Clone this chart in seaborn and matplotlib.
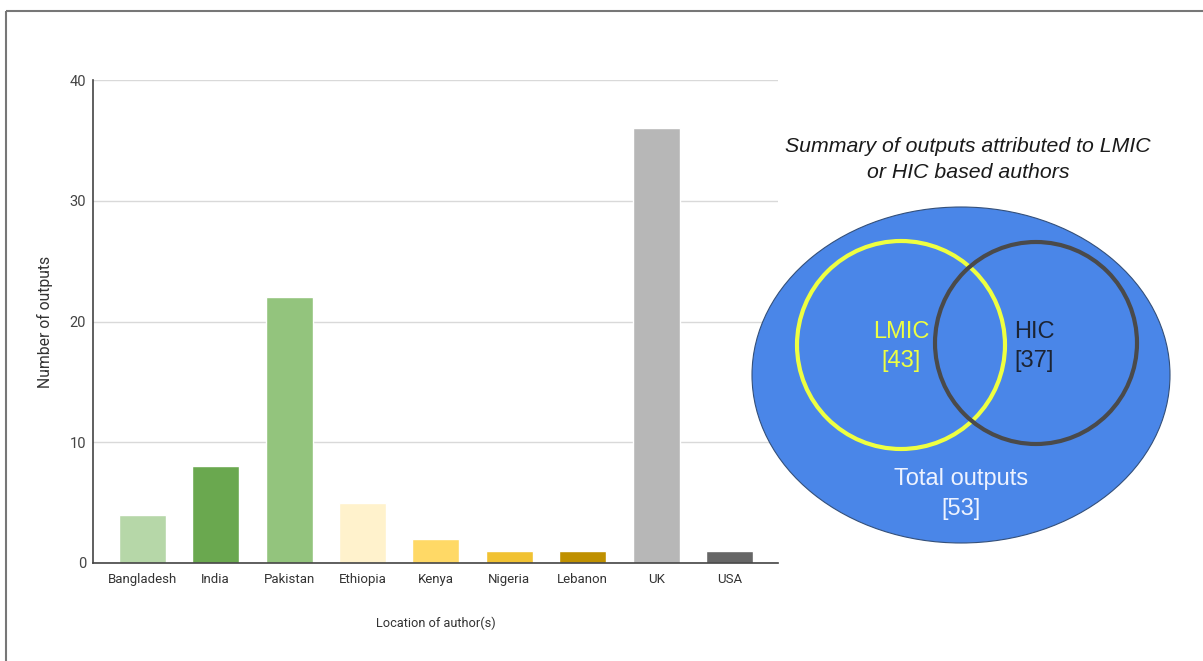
import matplotlib
matplotlib.use("Agg")
import matplotlib.pyplot as plt
from matplotlib.patches import Ellipse, Circle, Rectangle
import seaborn as sns
import pandas as pd

# ---- data ----
countries = ["Bangladesh", "India", "Pakistan", "Ethiopia", "Kenya", "Nigeria", "Lebanon", "UK", "USA"]
outputs = [4, 8, 22, 5, 2, 1, 1, 36, 1]
bar_colors = ["#b6d7a8", "#6aa84f", "#93c47d", "#fff2cc", "#ffd966", "#f1c232", "#bf9000", "#b7b7b7", "#666666"]
y_ticks = [0, 10, 20, 30, 40]
venn_labels = ["LMIC", "HIC", "Total outputs"]
venn_counts = [43, 37, 53]

sns.set_style("white")
plt.rcParams["font.family"] = ["Roboto", "DejaVu Sans"]

W, H = 1203, 661
fig = plt.figure(figsize=(W / 100, H / 100), dpi=100)

# background axes in pixel coordinates (border)
bg = fig.add_axes([0, 0, 1, 1])
bg.set_xlim(0, W)
bg.set_ylim(H, 0)
bg.axis("off")
bg.add_patch(Rectangle((6, 10.5), W + 20, H + 20, fill=False, edgecolor="#777777", lw=1.5))

# ---- bar chart ----
ax_l, ax_r, ax_t, ax_b = 93, 778, 80, 563
ax = fig.add_axes([ax_l / W, 1 - ax_b / H, (ax_r - ax_l) / W, (ax_b - ax_t) / H])
ax.set_facecolor("none")
df = pd.DataFrame({"country": countries, "outputs": outputs})
sns.barplot(data=df, x="country", y="outputs", hue="country", palette=bar_colors,
            legend=False, width=0.64, ax=ax, saturation=1)
ax.set_xlim(-0.67, 8.66)
ax.set_ylim(0, 40)
ax.set_yticks(y_ticks)
ax.set_yticklabels([str(t) for t in y_ticks], fontsize=10.5, color="#444444")
ax.tick_params(axis="x", labelsize=9.5, colors="#444444", length=0, pad=7)
ax.tick_params(axis="y", length=0, pad=5)
for lbl in ax.get_xticklabels():
    lbl.set_color("#333333")
ax.yaxis.grid(True, color="#d9d9d9", lw=1)
ax.set_axisbelow(True)
for s in ["top", "right"]:
    ax.spines[s].set_visible(False)
ax.spines["left"].set_color("#444444")
ax.spines["bottom"].set_color("#444444")
ax.spines["left"].set_linewidth(1.2)
ax.spines["bottom"].set_linewidth(1.2)
ax.set_xlabel("Location of author(s)", fontsize=9.2, color="#333333", labelpad=22)
ax.set_ylabel("Number of outputs", fontsize=11.3, color="#333333", labelpad=12)

# ---- venn diagram (own overlay axes, on top) ----
vx = fig.add_axes([0, 0, 1, 1])
vx.set_xlim(0, W)
vx.set_ylim(H, 0)
vx.axis("off")
vf = ["Liberation Sans", "DejaVu Sans"]
vx.text(968, 146, "Summary of outputs attributed to LMIC", ha="center", va="center",
        fontsize=15.3, style="italic", color="#1a1a1a", family=vf)
vx.text(968, 172, "or HIC based authors", ha="center", va="center",
        fontsize=15.3, style="italic", color="#1a1a1a", family=vf)

vx.add_patch(Ellipse((961, 375), 418, 336, facecolor="#4a86e8", edgecolor="#34507a", lw=0.8))
vx.add_patch(Circle((901, 345), 104, fill=False, edgecolor="#eeff41", lw=3))
vx.add_patch(Circle((1036, 343), 101, fill=False, edgecolor="#4a4a4a", lw=3))

fs = 17
vx.text(901, 332, venn_labels[0], ha="center", va="center", fontsize=fs, color="#eeff41", family=vf)
vx.text(901, 361, f"[{venn_counts[0]}]", ha="center", va="center", fontsize=fs, color="#eeff41", family=vf)
vx.text(1034, 332, venn_labels[1], ha="center", va="center", fontsize=fs, color="#1c2433", family=vf)
vx.text(1034, 361, f"[{venn_counts[1]}]", ha="center", va="center", fontsize=fs, color="#1c2433", family=vf)
vx.text(961, 479, venn_labels[2], ha="center", va="center", fontsize=fs, color="#eef3ff", family=vf)
vx.text(961, 509, f"[{venn_counts[2]}]", ha="center", va="center", fontsize=fs, color="#eef3ff", family=vf)

fig.savefig("out.png", dpi=100)
